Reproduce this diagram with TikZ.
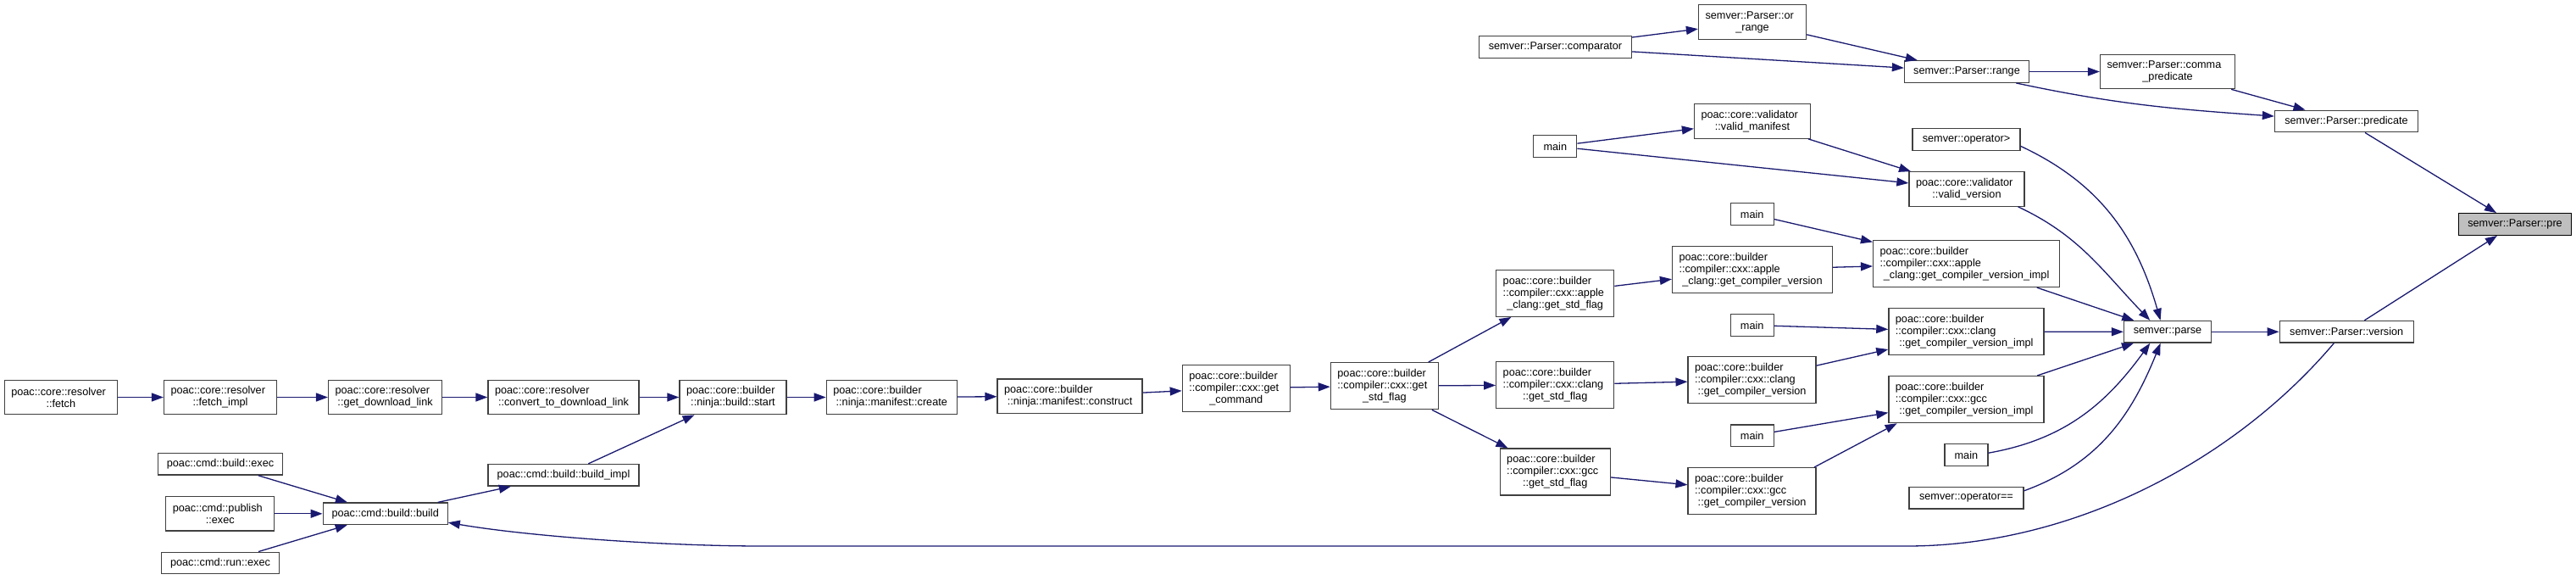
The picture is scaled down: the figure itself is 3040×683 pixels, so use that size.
\documentclass[tikz,border=0pt]{standalone}
\usepackage{fontspec}
\setmainfont{Liberation Sans}
\usetikzlibrary{arrows.meta}
\definecolor{edgeblue}{HTML}{191970}
\definecolor{boxline}{HTML}{404040}
\definecolor{curfill}{HTML}{BFBFBF}
\tikzset{
  fn/.style={draw=boxline, line width=1.3pt, fill=white, inner xsep=8pt, inner ysep=0pt,
    align=flush center, font={\fontsize{12.7}{14}\selectfont\hyphenpenalty=10000\relax}},
  ln1/.style={minimum height=25.6pt},
  ln2/.style={minimum height=40.4pt},
  ln3/.style={minimum height=55pt},
  cur/.style={fill=curfill, draw=black},
  call/.style={draw=edgeblue, line width=1.3pt, -{Triangle[length=14pt,width=10pt]}}
}
% left-justified line (graphviz \l)
\newcommand{\lj}[1]{#1\hfill\null\\}
\begin{document}
\begin{tikzpicture}[x=1pt,y=-1pt]
  \useasboundingbox (0,0) rectangle (3040,683);
  % semver side
  \node[fn, ln1, text width=164pt] (cmp) at (1835.5,55.5) {semver::Parser::comparator};
  \node[fn, ln2, text width=111pt] (orr) at (2068,26) {\lj{semver::Parser::or}\_range};
  \node[fn, ln1, text width=131pt] (rng) at (2321,84.5) {semver::Parser::range};
  \node[fn, ln2, text width=143pt] (cpred) at (2558,84.5) {\lj{semver::Parser::comma}\_predicate};
  \node[fn, ln1, text width=153pt] (pred) at (2769,143) {semver::Parser::predicate};
  \node[fn, ln1, cur, text width=117pt] (pre) at (2968,264.5) {semver::Parser::pre};
  \node[fn, ln1, text width=87pt] (parse) at (2558,391.3) {semver::parse};
  \node[fn, ln1, text width=142pt] (ver) at (2769.2,391.3) {semver::Parser::version};
  \node[fn, ln1, text width=111pt] (opgt) at (2320.5,164.5) {semver::operator>};
  \node[fn, ln1, text width=119pt] (opeq) at (2320.4,587.2) {semver::operator==};
  % validator
  \node[fn, ln1, text width=35pt] (mainVal) at (1835.3,172.5) {main};
  \node[fn, ln2, text width=121pt] (vman) at (2068,143) {\lj{poac::core::validator}::valid\_manifest};
  \node[fn, ln2, text width=120pt] (vver) at (2321,223) {\lj{poac::core::validator}::valid\_version};
  % compiler
  \node[fn, ln1, text width=35pt] (mainApple) at (2067.7,252.5) {main};
  \node[fn, ln3, text width=204pt] (aimpl) at (2320.6,311) {\lj{poac::core::builder}\lj{::compiler::cxx::apple}\_clang::get\_compiler\_version\_impl};
  \node[fn, ln3, text width=173pt] (agcv) at (2068,317.8) {\lj{poac::core::builder}\lj{::compiler::cxx::apple}\_clang::get\_compiler\_version};
  \node[fn, ln3, text width=123pt] (astd) at (1835.2,345.8) {\lj{poac::core::builder}\lj{::compiler::cxx::apple}\_clang::get\_std\_flag};
  \node[fn, ln1, text width=35pt] (mainClang) at (2067.7,383.5) {main};
  \node[fn, ln3, text width=167pt] (cimpl) at (2320.4,391.2) {\lj{poac::core::builder}\lj{::compiler::cxx::clang}::get\_compiler\_version\_impl};
  \node[fn, ln3, text width=135pt] (cgcv) at (2067.6,448.3) {\lj{poac::core::builder}\lj{::compiler::cxx::clang}::get\_compiler\_version};
  \node[fn, ln3, text width=123pt] (cstd) at (1835.2,454) {\lj{poac::core::builder}\lj{::compiler::cxx::clang}::get\_std\_flag};
  \node[fn, ln3, text width=167pt] (gimpl) at (2320.4,471.1) {\lj{poac::core::builder}\lj{::compiler::cxx::gcc}::get\_compiler\_version\_impl};
  \node[fn, ln1, text width=35pt] (mainGcc) at (2067.7,513.8) {main};
  \node[fn, ln1, text width=35pt] (mainParse) at (2320.4,536.5) {main};
  \node[fn, ln3, text width=135pt] (ggcv) at (2067.6,579.2) {\lj{poac::core::builder}\lj{::compiler::cxx::gcc}::get\_compiler\_version};
  \node[fn, ln3, text width=114pt] (gstd) at (1835.2,556.5) {\lj{poac::core::builder}\lj{::compiler::cxx::gcc}::get\_std\_flag};
  \node[fn, ln3, text width=111pt] (gsf) at (1633.9,455.2) {\lj{poac::core::builder}\lj{::compiler::cxx::get}\_std\_flag};
  \node[fn, ln3, text width=111pt] (gcmd) at (1458.8,457.8) {\lj{poac::core::builder}\lj{::compiler::cxx::get}\_command};
  % ninja and resolver
  \node[fn, ln2, text width=155pt] (cons) at (1262.6,467.2) {\lj{poac::core::builder}::ninja::manifest::construct};
  \node[fn, ln2, text width=138pt] (create) at (1052.3,468.5) {\lj{poac::core::builder}::ninja::manifest::create};
  \node[fn, ln2, text width=110pt] (start) at (865,468.5) {\lj{poac::core::builder}::ninja::build::start};
  \node[fn, ln2, text width=162pt] (conv) at (665,468.5) {\lj{poac::core::resolver}::convert\_to\_download\_link};
  \node[fn, ln2, text width=118pt] (gdl) at (454.6,468.5) {\lj{poac::core::resolver}::get\_download\_link};
  \node[fn, ln2, text width=117pt] (fimpl) at (260,468.5) {\lj{poac::core::resolver}::fetch\_impl};
  \node[fn, ln2, text width=117pt] (fetch) at (71.8,468.5) {\lj{poac::core::resolver}::fetch};
  % cmd
  \node[fn, ln1, text width=162pt] (bimpl) at (665,560.3) {poac::cmd::build::build\_impl};
  \node[fn, ln1, text width=131pt] (bbuild) at (454.7,605.8) {poac::cmd::build::build};
  \node[fn, ln1, text width=131pt] (bexec) at (260,547.3) {poac::cmd::build::exec};
  \node[fn, ln2, text width=112pt] (pexec) at (259.8,605.8) {\lj{poac::cmd::publish}::exec};
  \node[fn, ln1, text width=123pt] (rexec) at (260,664) {poac::cmd::run::exec};

  \draw[call] (cmp) -- (orr);
  \draw[call] (cmp) -- (rng);
  \draw[call] (orr) -- (rng);
  \draw[call] (rng) -- (cpred);
  \draw[call] (rng.-13) to[out=-12, in=176] (pred.176);
  \draw[call] (cpred) -- (pred);
  \draw[call] (pred) -- (pre);
  \draw[call] (ver) -- (pre);
  \draw[call] (parse) -- (ver);
  \draw[call] (mainVal) -- (vman);
  \draw[call] (mainVal) -- (vver);
  \draw[call] (vman) -- (vver);
  \draw[call] (vver.-19) to[out=-25, in=134] (parse.147);
  \draw[call] (opgt.-7) to[out=-25, in=106] (parse.122);
  \draw[call] (mainApple) -- (aimpl);
  \draw[call] (agcv) -- (aimpl);
  \draw[call] (astd) -- (agcv);
  \draw[call] (aimpl) -- (parse);
  \draw[call] (mainClang) -- (cimpl);
  \draw[call] (cgcv) -- (cimpl);
  \draw[call] (cstd) -- (cgcv);
  \draw[call] (cimpl) -- (parse);
  \draw[call] (gimpl) -- (parse);
  \draw[call] (mainGcc) -- (gimpl);
  \draw[call] (ggcv.21) -- (gimpl.-161);
  \draw[call] (gstd) -- (ggcv);
  \draw[call] (mainParse.5) to[out=10, in=-126] (parse.-147);
  \draw[call] (opeq.7) to[out=20, in=-112] (parse.-122);
  \draw[call] (gsf) -- (astd);
  \draw[call] (gsf) -- (cstd);
  \draw[call] (gsf) -- (gstd);
  \draw[call] (gcmd) -- (gsf);
  \draw[call] (cons) -- (gcmd);
  \draw[call] (create) -- (cons);
  \draw[call] (start) -- (create);
  \draw[call] (conv) -- (start);
  \draw[call] (gdl) -- (conv);
  \draw[call] (fimpl) -- (gdl);
  \draw[call] (fetch) -- (fimpl);
  \draw[call] (bimpl) -- (start);
  \draw[call] (bbuild) -- (bimpl);
  \draw[call] (bexec) -- (bbuild);
  \draw[call] (pexec) -- (bbuild);
  \draw[call] (rexec) -- (bbuild);
  \draw[call] (ver.-138) .. controls (2640,540) and (2450,644) .. (2250,644)
    -- (900,644) .. controls (780,644) and (620,632) .. (bbuild.-8);
\end{tikzpicture}
\end{document}
